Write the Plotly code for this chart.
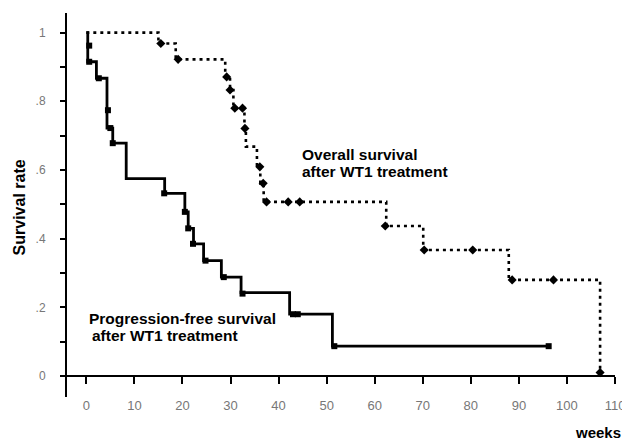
import plotly.graph_objects as go

# ---- data ----
os_time = [0, 15.0, 18.6, 28.9, 29.9, 30.6, 32.9, 33.2, 35.5, 36.2, 36.9, 62.4, 70.1, 87.9, 106.9]
os_surv = [1.0, 0.968, 0.922, 0.871, 0.833, 0.78, 0.725, 0.668, 0.609, 0.561, 0.507, 0.437, 0.367, 0.28, 0.01]
os_mark_time = [15.5, 19.1, 29.2, 29.9, 30.9, 32.5, 33.0, 36.1, 36.8, 37.5, 42.0, 44.4, 62.2, 70.3, 80.4, 88.6, 97.2, 106.9]
os_mark_surv = [0.968, 0.922, 0.871, 0.833, 0.78, 0.78, 0.721, 0.609, 0.561, 0.507, 0.507, 0.507, 0.437, 0.367, 0.367, 0.28, 0.28, 0.01]

pfs_time = [0, 0.3, 2.1, 4.3, 5.5, 8.3, 16.3, 20.5, 21.2, 22.3, 24.4, 28.1, 32.2, 42.3, 51.2, 96.2]
pfs_surv = [1.0, 0.915, 0.867, 0.722, 0.678, 0.575, 0.532, 0.478, 0.43, 0.385, 0.336, 0.288, 0.243, 0.18, 0.087, 0.087]
pfs_mark_time = [0.6, 0.6, 2.6, 4.5, 5.0, 5.5, 16.2, 20.5, 21.2, 22.2, 24.8, 28.6, 32.5, 43.0, 44.0, 51.6, 96.2]
pfs_mark_surv = [0.962, 0.915, 0.867, 0.774, 0.722, 0.678, 0.532, 0.478, 0.43, 0.385, 0.336, 0.288, 0.24, 0.18, 0.18, 0.087, 0.087]

y_tickvals = [0, 0.2, 0.4, 0.6, 0.8, 1.0]
y_ticktext = ["0", ".2", ".4", ".6", ".8", "1"]
x_tickvals = [0, 10, 20, 30, 40, 50, 60, 70, 80, 90, 100, 110]

# ---- layout geometry (window pixels; page body has an 8px margin) ----
OFF = 8
WIN_W, WIN_H = 630, 440
W, H = WIN_W - OFF, WIN_H - OFF
PL, PR, PT, PB = 67, 620, 13, 397          # plot area edges in window pixels
L, T = PL - OFF, PT - OFF
R, B = WIN_W - PR, WIN_H - PB
PW, PH = PR - PL, PB - PT
YMIN, YMAX = -0.061, 1.057
XMIN, XMAX = -4.02, 110


def px(xp):
    return (xp - PL) / PW


def py(yp):
    return (PB - yp) / PH


FONT = "Liberation Sans, Arial, sans-serif"

fig = go.Figure()

fig.add_trace(go.Scatter(
    x=os_time, y=os_surv, mode="lines", line_shape="hv",
    line=dict(color="black", width=2.6, dash="3px,4px"),
    hoverinfo="skip", showlegend=False))
fig.add_trace(go.Scatter(
    x=os_mark_time, y=os_mark_surv, mode="markers",
    marker=dict(symbol="diamond", size=7, color="black"),
    showlegend=False))

fig.add_trace(go.Scatter(
    x=pfs_time, y=pfs_surv, mode="lines", line_shape="hv",
    line=dict(color="black", width=2.8),
    hoverinfo="skip", showlegend=False))
fig.add_trace(go.Scatter(
    x=pfs_mark_time, y=pfs_mark_surv, mode="markers",
    marker=dict(symbol="square", size=6, color="black"),
    showlegend=False))

ann_font = dict(family=FONT, size=15.5, color="black", weight="bold")
annotations = [
    dict(text="Overall survival", x=px(302), y=py(154), xanchor="left", yanchor="middle"),
    dict(text="after WT1 treatment", x=px(302), y=py(171), xanchor="left", yanchor="middle"),
    dict(text="Progression-free survival", x=px(87), y=py(318), xanchor="left", yanchor="middle"),
    dict(text="after WT1 treatment", x=px(90), y=py(335), xanchor="left", yanchor="middle"),
]
for a in annotations:
    a.update(xref="paper", yref="paper", showarrow=False, font=ann_font)

annotations.append(dict(text="weeks", x=px(628), y=py(422), xref="paper", yref="paper",
                        xanchor="right", yanchor="top", showarrow=False,
                        font=dict(family=FONT, size=15, color="black", weight="bold")))
annotations.append(dict(text="Survival rate", x=px(20), y=py(207), xref="paper", yref="paper",
                        xanchor="center", yanchor="middle", textangle=-90, showarrow=False,
                        font=dict(family=FONT, size=16, color="black", weight="bold")))

fig.update_layout(
    width=W, height=H,
    margin=dict(l=L, r=R, t=T, b=B, pad=0),
    paper_bgcolor="white", plot_bgcolor="white",
    annotations=annotations,
    xaxis=dict(
        range=[XMIN, XMAX], tickvals=x_tickvals,
        showgrid=False, zeroline=False,
        showline=True, linecolor="black", linewidth=2,
        ticks="outside", ticklen=7, tickwidth=1.5, tickcolor="black",
        tickfont=dict(family=FONT, size=13, color="#777777"),
        ticklabelstandoff=10, ticklabeloverflow="allow",
        anchor="free", position=(0 - YMIN) / (YMAX - YMIN),
    ),
    yaxis=dict(
        range=[YMIN, YMAX], tickvals=y_tickvals, ticktext=y_ticktext,
        showgrid=False, zeroline=False,
        showline=True, linecolor="black", linewidth=2,
        ticks="outside", ticklen=5, tickwidth=1.5, tickcolor="black",
        minor=dict(dtick=0.1, tick0=0, ticks="outside", ticklen=5, tickwidth=1.5, tickcolor="black"),
        tickfont=dict(family=FONT, size=12, color="#777777"),
        ticklabelstandoff=12,
    ),
)

fig.write_html("out.html")
